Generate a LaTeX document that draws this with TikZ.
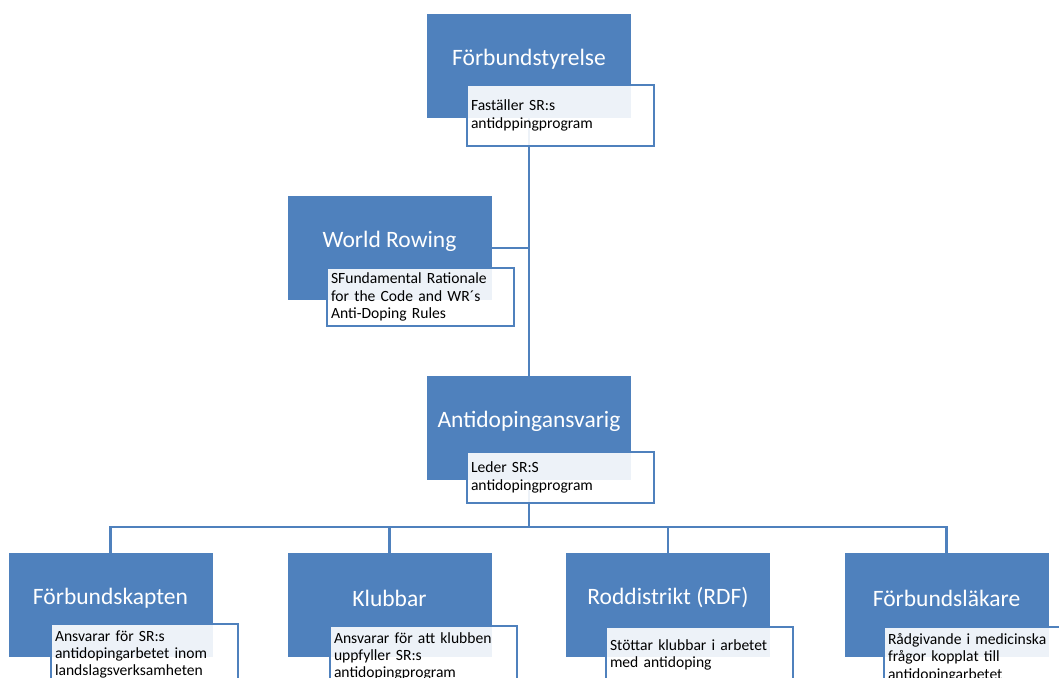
\documentclass[tikz,border=0pt]{standalone}
\usepackage{fontspec}
\setmainfont{Carlito}
\usetikzlibrary{backgrounds}
\definecolor{acc}{HTML}{4F81BD}
\begin{document}
\begin{tikzpicture}[x=1pt,y=-1pt,
  bbox/.style={fill=acc, minimum width=204pt, minimum height=104pt, inner sep=0pt},
  btext/.style={text=white, inner sep=0pt, font=\fontsize{23.5}{28}\selectfont},
  desc/.style={draw=acc, line width=2pt, fill=white, fill opacity=0.9, text opacity=1,
    minimum width=187pt, anchor=north west, text width=179pt, inner xsep=4pt, inner ysep=0pt,
    align=left, font=\fontsize{15.6}{17.4}\selectfont},
  conn/.style={draw=acc, line width=2.2pt}]
\useasboundingbox (0,0) rectangle (1059,677);
\clip (0,0) rectangle (1059,677);
% top
\node[bbox] (fs) at (529,66) {};
\node[btext] (fsT) at (529,59) {Förbundstyrelse};
\node[desc, minimum height=61pt] (fsD) at (466,84) {Faställer SR:s\\antidppingprogram};
% world rowing
\node[bbox] (wr) at (389.5,248) {};
\node[btext] (wrT) at (389.5,241) {World Rowing};
\node[desc, minimum height=58pt] (wrD) at (326,267) {SFundamental Rationale\\for the Code and WR´s\\Anti-Doping Rules};
% antidoping
\node[bbox] (an) at (529,428) {};
\node[btext] (anT) at (529,421) {Antidopingansvarig};
\node[desc, minimum height=51pt] (anD) at (466,451) {Leder SR:S\\antidopingprogram};
% bottom row
\node[bbox] (fk) at (110.5,605) {};
\node[btext] (fkT) at (110.5,598) {Förbundskapten};
\node[desc, minimum height=61pt] (fkD) at (50,623) {Ansvarar för SR:s\\antidopingarbetet inom\\landslagsverksamheten};
\node[bbox] (kl) at (389.5,605) {};
\node[btext] (klT) at (389.5,598) {Klubbar};
\node[desc, minimum height=61pt] (klD) at (329,625) {Ansvarar för att klubben\\uppfyller SR:s\\antidopingprogram};
\node[bbox] (rd) at (668,605) {};
\node[btext] (rdT) at (668,598) {Roddistrikt (RDF)};
\node[desc, minimum height=56pt] (rdD) at (605,626) {Stöttar klubbar i arbetet\\med antidoping};
\node[bbox] (fl) at (946.5,605) {};
\node[btext] (flT) at (946.5,598) {Förbundsläkare};
\node[desc, minimum height=61pt] (flD) at (883,626) {Rådgivande i medicinska\\frågor kopplat till\\antidopingarbetet};
% connectors
\coordinate (bus) at (0,527);
\begin{scope}[on background layer]
\draw[conn] (fs.south) -- (an.north);
\draw[conn] (wr.east) -- (wr.east -| fs.south);
\draw[conn] (an.south) -- (an.south |- bus) -| (fk.north);
\draw[conn] (an.south |- bus) -| (kl.north);
\draw[conn] (an.south |- bus) -| (rd.north);
\draw[conn] (an.south |- bus) -| (fl.north);
\end{scope}
\end{tikzpicture}
\end{document}
